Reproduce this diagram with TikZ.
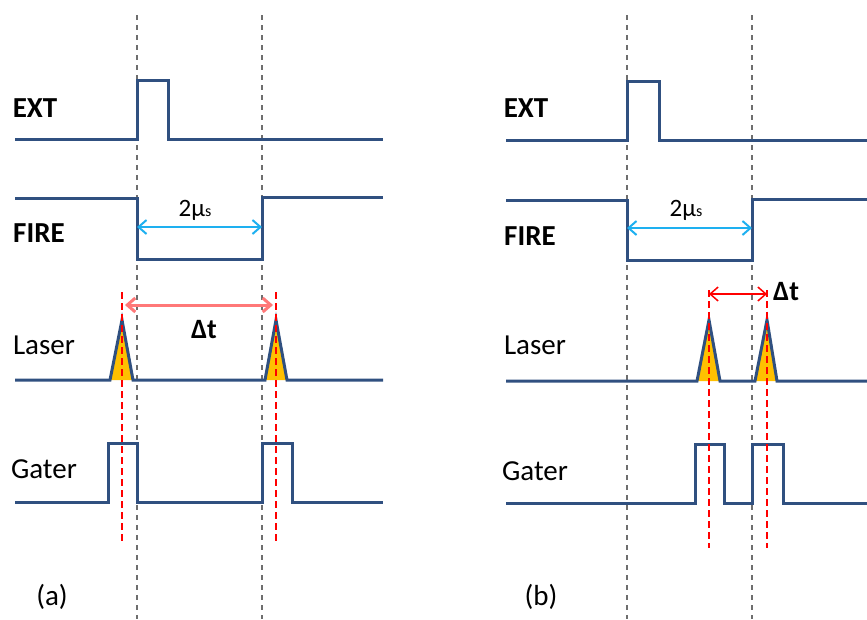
\documentclass[tikz,border=0pt]{standalone}
\usepackage{fontspec}
\setmainfont{Carlito}
\usetikzlibrary{arrows.meta}
\definecolor{wave}{RGB}{48,80,128}
\definecolor{pulse}{RGB}{255,192,0}
\definecolor{cyanarr}{RGB}{30,176,240}
\definecolor{lightred}{RGB}{255,120,120}
\definecolor{guide}{RGB}{110,110,110}
\tikzset{
  sig/.style={draw=wave,line width=3pt,line join=miter},
  pfill/.style={fill=pulse},
  guideline/.style={draw=guide,line width=2pt,dash pattern=on 5pt off 5pt},
  redguide/.style={draw=red,line width=1.6pt,dash pattern=on 7pt off 4pt},
  lab/.style={font=\fontsize{29}{34}\selectfont,inner sep=0pt},
  blab/.style={font=\fontsize{29}{34}\selectfont\bfseries,inner sep=0pt},
  barb/.style={{Straight Barb[length=8pt,width=14pt]}-{Straight Barb[length=8pt,width=14pt]}},
}
\begin{document}
\begin{tikzpicture}[x=1pt,y=-1pt]
\useasboundingbox (0,0) rectangle (867,619);
% ---------------- panel (a) ----------------
\coordinate (ga1t) at (137,15); \coordinate (ga1b) at (137,619);
\coordinate (ga2t) at (262,15); \coordinate (ga2b) at (262,619);
\draw[guideline] (ga1t) -- (ga1b);
\draw[guideline] (ga2t) -- (ga2b);
% laser fills
\fill[pfill] (110,380) -- (122,320) -- (133,380) -- cycle;
\fill[pfill] (265,380) -- (276,320) -- (287,380) -- cycle;
% waveforms
\draw[sig] (15,139) -- (137,139) -- (137,80) -- (168,80) -- (168,139) -- (383,139);
\draw[sig] (15,198) -- (137,198) -- (137,259) -- (262,259) -- (262,197) -- (383,197);
\draw[sig] (15,380) -- (110,380) -- (122,320) -- (133,380) -- (265,380) -- (276,320) -- (287,380) -- (383,380);
\draw[sig] (15,502) -- (108,502) -- (108,443) -- (137,443) -- (137,502) -- (262,502) -- (262,443) -- (292,443) -- (292,502) -- (383,502);
% red guides
\coordinate (ra1t) at (122,292); \coordinate (ra1b) at (122,543);
\coordinate (ra2t) at (276,292); \coordinate (ra2b) at (276,543);
\draw[redguide] (ra1t) -- (ra1b);
\draw[redguide] (ra2t) -- (ra2b);
% arrows
\coordinate (ca1) at (137,227); \coordinate (ca2) at (262,227);
\draw[barb,draw=cyanarr,line width=2pt] (ca1) -- (ca2);
\coordinate (da1) at (125,305); \coordinate (da2) at (273,305);
\draw[barb,draw=lightred,line width=3pt] (da1) -- (da2);
% labels
\node[blab] (extA) at (35,108) {EXT};
\node[blab] (fireA) at (39,233) {FIRE};
\node[lab] (laserA) at (44,345) {Laser};
\node[lab] (gaterA) at (44,469) {Gater};
\node[lab] (capA) at (52,597) {(a)};
\node[lab,font=\fontsize{25}{30}\selectfont] (usA) at (195,210) {2µ{\fontsize{16}{19}\selectfont s}};
\node[blab,font=\fontsize{28}{32}\selectfont\bfseries] (dtA) at (204,330) {Δt};
% ---------------- panel (b) ----------------
\coordinate (gb1t) at (627,15); \coordinate (gb1b) at (627,619);
\coordinate (gb2t) at (752,15); \coordinate (gb2b) at (752,619);
\draw[guideline] (gb1t) -- (gb1b);
\draw[guideline] (gb2t) -- (gb2b);
\fill[pfill] (697,381) -- (709,320) -- (720,381) -- cycle;
\fill[pfill] (755,381) -- (767,320) -- (777,381) -- cycle;
\draw[sig] (506,140) -- (627,140) -- (627,81) -- (659,81) -- (659,140) -- (867,140);
\draw[sig] (506,200) -- (627,200) -- (627,260) -- (752,260) -- (752,199) -- (867,199);
\draw[sig] (506,381) -- (697,381) -- (709,320) -- (720,381) -- (755,381) -- (767,320) -- (777,381) -- (867,381);
\draw[sig] (506,503) -- (695,503) -- (695,444) -- (724,444) -- (724,503) -- (752,503) -- (752,444) -- (783,444) -- (783,503) -- (867,503);
\coordinate (rb1t) at (709,290); \coordinate (rb1b) at (709,548);
\coordinate (rb2t) at (767,290); \coordinate (rb2b) at (767,548);
\draw[redguide] (rb1t) -- (rb1b);
\draw[redguide] (rb2t) -- (rb2b);
\coordinate (cb1) at (627,228); \coordinate (cb2) at (752,228);
\draw[barb,draw=cyanarr,line width=2pt] (cb1) -- (cb2);
\coordinate (db1) at (709,294); \coordinate (db2) at (767,294);
\draw[barb,draw=red,line width=1.5pt] (db1) -- (db2);
\node[blab] (extB) at (526,108) {EXT};
\node[blab] (fireB) at (530,236) {FIRE};
\node[lab] (laserB) at (535,345) {Laser};
\node[lab] (gaterB) at (535,471) {Gater};
\node[lab] (capB) at (541,597) {(b)};
\node[lab,font=\fontsize{25}{30}\selectfont] (usB) at (686,210) {2µ{\fontsize{16}{19}\selectfont s}};
\node[blab,font=\fontsize{28}{32}\selectfont\bfseries] (dtB) at (786,292) {Δt};
\end{tikzpicture}
\end{document}
